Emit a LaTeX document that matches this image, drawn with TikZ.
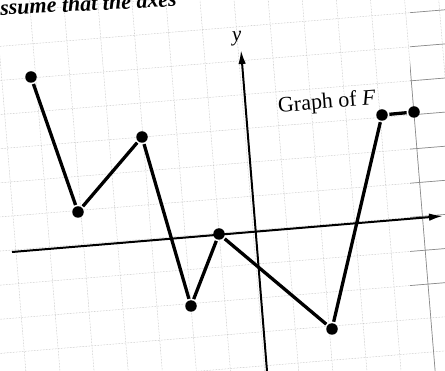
\documentclass[tikz,border=0pt]{standalone}
\usepackage{fontspec}
\setmainfont{Liberation Serif}
\usetikzlibrary{arrows.meta}

\begin{document}
\begin{tikzpicture}[x=1pt,y=-1pt,line width=3.3pt,
 dot/.style={circle,fill=black,inner sep=0pt,minimum size=11.5pt},
 axis/.style={line width=2pt,-{Latex[length=14pt,width=7.5pt]}},
 gridline/.style={line width=.5pt,densely dotted,black!30}]
\useasboundingbox (0,0) rectangle (445,371);
\clip (0,0) rectangle (445,371);
% faint grid of the page
\begin{scope}[shift={(256,230)},rotate=4.7]
 \foreach \k in {-9,...,7}{\draw[gridline] (34*\k-3,-260) -- (34*\k-3,170);}
 \foreach \k in {-8,...,5}{\draw[gridline] (-300,34*\k) -- (250,34*\k);}
\end{scope}
% darker grid at the right edge
\begin{scope}
 \clip (410,0) rectangle (445,371);
 \begin{scope}[shift={(256,230)},rotate=4.7]
  \foreach \k in {5}{\draw[gridline,black!45,solid,line width=.7pt] (34*\k-3,-260) -- (34*\k-3,170);}
  \foreach \k in {-6,...,2}{\draw[gridline,black!45,solid,line width=.7pt] (-300,34*\k) -- (250,34*\k);}
 \end{scope}
\end{scope}
\node[font=\fontsize{22}{26}\selectfont\bfseries\itshape,anchor=base west,rotate=3,inner sep=0pt] (note) at (-1,15.5) {ssume that the axes};
% axes
\coordinate (xl) at (12,252);
\coordinate (xr) at (443,216);
\coordinate (yb) at (267,371);
\coordinate (yt) at (241,50);
\draw[axis] (xl) -- (xr);
\draw[axis] (yb) -- (yt);
\node[font=\fontsize{21}{24}\selectfont\itshape,rotate=4.7] (ylab) at (237,39) {y};
% graph
\foreach \n/\p in {1/{31,77},2/{78,212},3/{142,137},4/{191,306},5/{219,234},6/{332,329},7/{382,115},8/{414,112}}
 \node[dot] (p\n) at (\p) {};
\draw (p1) -- (p2) -- (p3) -- (p4) -- (p5) -- (p6) -- (p7) -- (p8);
\node[font=\fontsize{22}{25}\selectfont,rotate=4.7] (lbl) at (327,103) {Graph of \textit{F}};
\end{tikzpicture}
\end{document}
